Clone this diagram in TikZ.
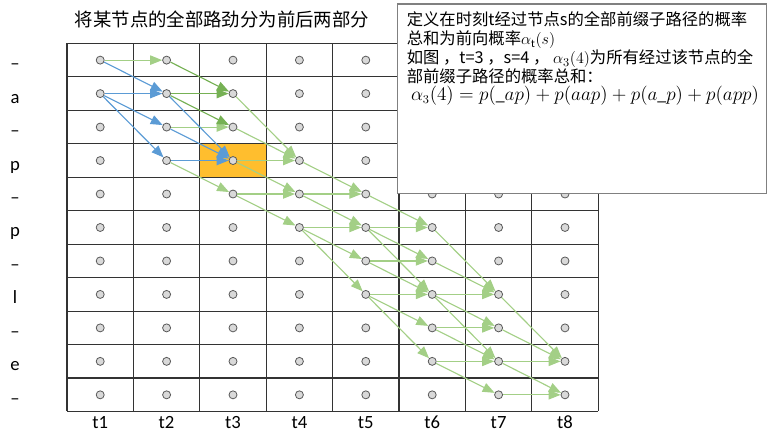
\documentclass[tikz,border=0pt]{standalone}
\usepackage{fontspec}
\setmainfont{Carlito}
\newfontfamily\cjk{Noto Sans CJK SC}
\usetikzlibrary{arrows.meta}
\definecolor{blueline}{HTML}{5B9BD5}
\definecolor{greenline}{HTML}{A3CF86}
\definecolor{greendark}{HTML}{76B154}
\definecolor{cellorange}{HTML}{FFBE2E}
\definecolor{dotgray}{HTML}{D9D9D9}
\tikzset{
  gridline/.style={draw=black!80, line width=0.9pt},
  dot/.style={circle, draw=black!65, fill=dotgray, line width=0.6pt, inner sep=0pt, minimum size=6pt},
  fwd/.style={draw=blueline, line width=0.85pt, -{Triangle[length=9pt,width=7pt]}},
  rest/.style={draw=greenline, line width=0.85pt, -{Triangle[length=9pt,width=7pt]}},
  restdark/.style={rest, draw=greendark},
  rowlabel/.style={font=\fontsize{14}{16}\selectfont, anchor=base},
  infobox/.style={draw=black!50, fill=white, line width=0.8pt, anchor=north west, inner sep=0pt,
    minimum width=277pt, minimum height=142pt}
}
\begin{document}
\begin{tikzpicture}[x=0.75pt, y=-0.75pt]
  \useasboundingbox (0,0) rectangle (768,434);
  \fill[cellorange] (200,144.3) rectangle (266.4,177.8);
  \foreach \k in {0,...,8}
    \draw[gridline] ({67+66.4*\k},43.4) -- ({67+66.4*\k},411.5);
  \foreach \k in {0,...,11}
    \draw[gridline] (67,{43.4+33.47*\k}) -- (598.2,{43.4+33.47*\k});
  \foreach \i in {1,...,8}
    \foreach \j in {1,...,11}
      \node[dot] (t\i-s\j) at ({67+66.4*(\i-0.5)},{43.4+33.47*(\j-0.5)}) {};
  \foreach \lab [count=\j] in {–,a,–,p,–,p,–,l,–,e,–}
    \node[rowlabel] (lab\j) at (15,{43.4+33.47*(\j-0.5)+9.5}) {\lab};
  \foreach \i in {1,...,8}
    \node[rowlabel] (time\i) at ({67+66.4*(\i-0.5)},429) {t\i};

  \foreach \a/\b/\c/\d in {1/1/2/1, 2/3/3/3, 2/4/3/5,
      3/2/4/4, 3/3/4/4, 3/4/4/4, 3/4/4/5, 3/5/4/5, 3/5/4/6,
      4/4/5/5, 4/5/5/5, 4/5/5/6, 4/6/5/6, 4/6/5/7, 4/6/5/8,
      5/5/6/6, 5/6/6/6, 5/6/6/7, 5/6/6/8, 5/7/6/7, 5/7/6/8, 5/8/6/8, 5/8/6/9, 5/8/6/10,
      6/6/7/8, 6/7/7/8, 6/8/7/8, 6/8/7/9, 6/8/7/10, 6/9/7/9, 6/9/7/10, 6/10/7/10, 6/10/7/11,
      7/8/8/10, 7/9/8/10, 7/10/8/10, 7/10/8/11, 7/11/8/11}
    \draw[rest] (t\a-s\b) -- (t\c-s\d);
  \foreach \a/\b/\c/\d in {2/1/3/2, 2/2/3/2, 2/2/3/3}
    \draw[restdark] (t\a-s\b) -- (t\c-s\d);
  \foreach \a/\b/\c/\d in {1/1/2/2, 1/2/2/2, 1/2/2/3, 1/2/2/4, 2/2/3/4, 2/3/3/4, 2/4/3/4}
    \draw[fwd] (t\a-s\b) -- (t\c-s\d);

  \node[font=\cjk\fontsize{13.8}{16}\selectfont] (title) at (222,19.5) {将某节点的全部路劲分为前后两部分};

  \node[infobox] (info) at (397,3.5) {};
  \node[anchor=north west, align=left, inner sep=0pt, font=\cjk\fontsize{12.25}{14.3}\selectfont] (infotext) at (406.5,11.5)
    {定义在时刻t经过节点s的全部前缀子路径的概率\\
     总和为前向概率$\alpha_{\mathrm{t}}(s)$\\
     如图 ，t=3 ，s=4 ， $\alpha_3(4)$为所有经过该节点的全\\
     部前缀子路径的概率总和：};
  \node[font=\fontsize{13.3}{16}\selectfont] (formula) at (585,95.5)
    {$\alpha_3(4)=p(\_ap)+p(aap)+p(a\_p)+p(app)$};
\end{tikzpicture}
\end{document}
